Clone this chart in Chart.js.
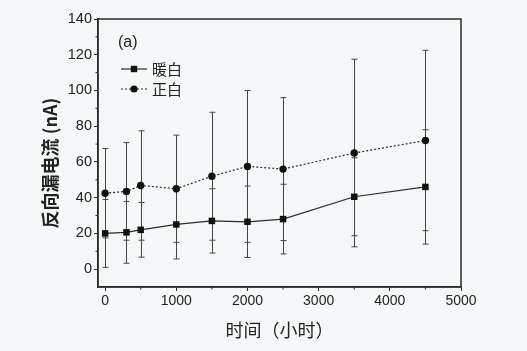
<!DOCTYPE html>
<html>
<head>
<meta charset="utf-8">
<script src="https://cdn.jsdelivr.net/npm/chart.js@4/dist/chart.umd.min.js"></script>
<style>
  html, body { margin: 0; padding: 0; background: #f5f8f8; }
</style>
</head>
<body>
<canvas id="chart" width="527" height="351"></canvas>
<script>
// 数据
const hours = [0, 300, 500, 1000, 1500, 2000, 2500, 3500, 4500];
const warmWhite = [20, 20.6, 22, 25, 27, 26.5, 28, 40.5, 46];
const warmErr = [19, 17.3, 15.3, 19.3, 18, 20, 19.5, 21.8, 32];
const pureWhite = [42.5, 43.5, 46.8, 45, 52, 57.5, 56, 65, 72];
const pureErr = [25, 27.3, 30.6, 30, 35.8, 42.5, 40, 52.5, 50.5];
const seriesNames = ['暖白', '正白'];
const xTicks = [0, 1000, 2000, 3000, 4000, 5000];
const yTicks = [0, 20, 40, 60, 80, 100, 120, 140];
const yTitle = '反向漏电流 (nA)';

const INK = '#2b2b2b';
const NUM_FONT = 'Liberation Sans, Arial, sans-serif';
const CJK_FONT = '"Noto Sans CJK SC", sans-serif';

// 误差棒
const errorBars = {
    id: 'errorBars',
    beforeDatasetsDraw(chart) {
        const { ctx, scales: { x, y } } = chart;
        ctx.save();
        ctx.strokeStyle = '#444';
        ctx.lineWidth = 1;
        chart.data.datasets.forEach(ds => {
            ds.data.forEach((p, i) => {
                const e = ds.errors[i];
                const px = Math.round(x.getPixelForValue(p.x)) + 0.5;
                const top = y.getPixelForValue(p.y + e);
                const bot = y.getPixelForValue(p.y - e);
                ctx.beginPath();
                ctx.moveTo(px, top); ctx.lineTo(px, bot);
                ctx.moveTo(px - 3, top); ctx.lineTo(px + 3, top);
                ctx.moveTo(px - 3, bot); ctx.lineTo(px + 3, bot);
                ctx.stroke();
            });
        });
        ctx.restore();
    }
};

// 边框、次刻度、图例、纵轴标题
const frameAndLegend = {
    id: 'frameAndLegend',
    beforeDraw(chart) {
        const { ctx, width, height } = chart;
        ctx.save();
        ctx.fillStyle = '#f5f8f8';
        ctx.fillRect(0, 0, width, height);
        ctx.restore();
    },
    afterDraw(chart) {
        const { ctx, chartArea: a, scales: { x, y } } = chart;
        ctx.save();
        ctx.strokeStyle = INK;
        ctx.lineWidth = 1.5;
        ctx.strokeRect(a.left, a.top, a.right - a.left, a.bottom - a.top);

        ctx.lineWidth = 1;
        ctx.beginPath();
        for (let i = 0; i < xTicks.length - 1; i++) {
            const px = x.getPixelForValue((xTicks[i] + xTicks[i + 1]) / 2);
            ctx.moveTo(px, a.bottom); ctx.lineTo(px, a.bottom + 2.5);
        }
        for (let i = 0; i < yTicks.length - 1; i++) {
            const py = y.getPixelForValue((yTicks[i] + yTicks[i + 1]) / 2);
            ctx.moveTo(a.left, py); ctx.lineTo(a.left - 2.5, py);
        }
        ctx.stroke();

        // 纵轴标题
        ctx.save();
        ctx.translate(50, (a.top + a.bottom) / 2 + 10);
        ctx.rotate(-Math.PI / 2);
        ctx.fillStyle = '#222';
        ctx.textAlign = 'center';
        ctx.textBaseline = 'middle';
        ctx.font = 'bold 18px ' + CJK_FONT;
        ctx.fillText(yTitle, 0, 0);
        ctx.restore();

        // (a)
        ctx.fillStyle = '#222';
        ctx.textBaseline = 'middle';
        ctx.font = '16px ' + NUM_FONT;
        ctx.fillText('(a)', a.left + 20, a.top + 24);

        // 图例
        chart.data.datasets.forEach((ds, i) => {
            const ly = a.top + 50 + i * 20;
            const x0 = a.left + 23, x1 = a.left + 49;
            ctx.save();
            ctx.strokeStyle = ds.borderColor;
            ctx.lineWidth = ds.borderWidth;
            ctx.setLineDash(ds.borderDash || []);
            ctx.beginPath();
            ctx.moveTo(x0, ly); ctx.lineTo(x1, ly);
            ctx.stroke();
            ctx.restore();
            const cx = (x0 + x1) / 2;
            ctx.fillStyle = ds.pointBackgroundColor;
            ctx.beginPath();
            if (ds.pointStyle === 'rect') {
                ctx.rect(cx - 3.2, ly - 3.2, 6.4, 6.4);
            } else {
                ctx.arc(cx, ly, 3.6, 0, Math.PI * 2);
            }
            ctx.fill();
            ctx.fillStyle = '#222';
            ctx.font = '15px ' + CJK_FONT;
            ctx.fillText(ds.label, x1 + 5, ly);
        });
        ctx.restore();
    }
};

new Chart(document.getElementById('chart'), {
    type: 'line',
    data: {
        datasets: [
            {
                label: seriesNames[0],
                data: hours.map((h, i) => ({ x: h, y: warmWhite[i] })),
                errors: warmErr,
                borderColor: INK,
                borderWidth: 1.2,
                pointStyle: 'rect',
                pointRadius: 4.6,
                pointBackgroundColor: '#111',
                pointBorderWidth: 0,
                tension: 0
            },
            {
                label: seriesNames[1],
                data: hours.map((h, i) => ({ x: h, y: pureWhite[i] })),
                errors: pureErr,
                borderColor: INK,
                borderWidth: 1.2,
                borderDash: [2, 2],
                pointStyle: 'circle',
                pointRadius: 3.7,
                pointBackgroundColor: '#111',
                pointBorderWidth: 0,
                tension: 0
            }
        ]
    },
    options: {
        responsive: false,
        animation: false,
        devicePixelRatio: 1,
        layout: { padding: { left: 0, right: 66, top: 19, bottom: 0 } },
        plugins: { legend: { display: false }, tooltip: { enabled: false } },
        scales: {
            x: {
                type: 'linear',
                min: -100,
                max: 5000,
                afterBuildTicks: s => { s.ticks = xTicks.map(v => ({ value: v })); },
                afterFit: s => { s.height = 64; },
                ticks: { font: { family: NUM_FONT, size: 14 }, color: '#222', padding: 2, maxRotation: 0, callback: v => String(v) },
                grid: { drawOnChartArea: false, tickLength: 4, color: INK },
                border: { color: INK, width: 1.5 },
                title: {
                    display: true,
                    text: '时间（小时）',
                    font: { family: CJK_FONT, size: 18 },
                    color: '#222',
                    padding: { top: 0, bottom: 10 }
                }
            },
            y: {
                type: 'linear',
                min: -10,
                max: 140,
                afterBuildTicks: s => { s.ticks = yTicks.map(v => ({ value: v })); },
                afterFit: s => { s.width = 98; },
                ticks: { font: { family: NUM_FONT, size: 14.5 }, color: '#222', padding: 2, callback: v => String(v) },
                grid: { drawOnChartArea: false, tickLength: 4, color: INK },
                border: { color: INK, width: 1.5 }
            }
        }
    },
    plugins: [errorBars, frameAndLegend]
});
</script>
</body>
</html>
